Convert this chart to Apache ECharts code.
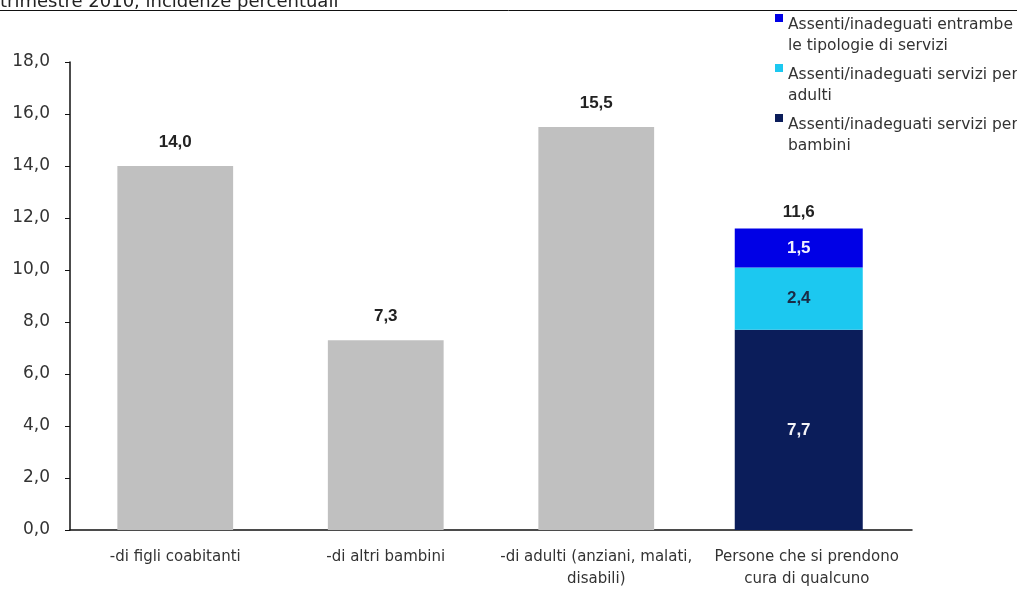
<!DOCTYPE html>
<html>
<head>
<meta charset="utf-8">
<script src="https://cdn.jsdelivr.net/npm/echarts@6/dist/echarts.min.js"></script>
<style>
  html, body { margin: 0; padding: 0; background: #fff; }
  #chart { width: 1017px; height: 592px; }
</style>
</head>
<body>
<div id="chart"></div>
<script>
// categorie
const categories = [
  '-di figli coabitanti',
  '-di altri bambini',
  '-di adulti (anziani, malati,\ndisabili)',
  'Persone che si prendono\ncura di qualcuno'
]
// valori
const singoli = [14.0, 7.3, 15.5, '-']
const bambini = ['-', '-', '-', 7.7]
const adulti = ['-', '-', '-', 2.4]
const entrambe = ['-', '-', '-', 1.5]
const totali = [14.0, 7.3, 15.5, 11.6]
const yTicks = [0, 2, 4, 6, 8, 10, 12, 14, 16, 18]

const nomeEntrambe = 'Assenti/inadeguati entrambe le tipologie di servizi'
const nomeAdulti = 'Assenti/inadeguati servizi per adulti'
const nomeBambini = 'Assenti/inadeguati servizi per bambini'
const legendaTesti = {
  [nomeEntrambe]: 'Assenti/inadeguati entrambe\nle tipologie di servizi',
  [nomeAdulti]: 'Assenti/inadeguati servizi per\nadulti',
  [nomeBambini]: 'Assenti/inadeguati servizi per\nbambini'
}

const font = "'DejaVu Sans', 'Liberation Sans', Arial, sans-serif"
const fontBold = "'Liberation Sans', Arial, sans-serif"
const fmt = (v) => Number(v).toFixed(1).replace('.', ',')

const chart = echarts.init(document.getElementById('chart'))

const valueLabel = (color, position, distance) => ({
  show: true,
  position,
  distance,
  color,
  fontFamily: fontBold,
  fontWeight: 'bold',
  fontSize: 17,
  formatter: (p) => fmt(p.value)
})

// asse nascosto per la colonna impilata (leggermente spostata come nell'originale)
const hiddenY = { type: 'value', gridIndex: 1, min: yTicks[0], max: yTicks[yTicks.length - 1], interval: 2, show: false }

chart.setOption({
  animation: false,
  backgroundColor: '#fff',
  grid: [
    { left: 70, right: 105, top: 62, bottom: 62 },
    { left: 62, right: 113, top: 62, bottom: 62 }
  ],
  graphic: [
    {
      type: 'text',
      x: 0,
      y: 11,
      style: {
        text: 'trimestre 2010, incidenze percentuali',
        fontFamily: font,
        fontSize: 18,
        fill: '#222',
        verticalAlign: 'bottom'
      }
    },
    {
      type: 'line',
      shape: { x1: 0, y1: 10.5, x2: 1017, y2: 10.5 },
      style: { stroke: '#111', lineWidth: 1 }
    }
  ],
  legend: {
    orient: 'vertical',
    left: 770,
    top: 9,
    itemGap: 8,
    itemWidth: 8,
    itemHeight: 42,
    icon: 'path://M0,0L8,0L8,8L0,8Z M0,42L0,42',
    data: [nomeEntrambe, nomeAdulti, nomeBambini],
    formatter: (name) => legendaTesti[name],
    textStyle: { fontFamily: font, fontSize: 15.5, color: '#333', lineHeight: 21 }
  },
  xAxis: [
    {
      type: 'category',
      gridIndex: 0,
      data: categories,
      axisLine: { lineStyle: { color: '#111', width: 1.5 } },
      axisTick: { show: false },
      axisLabel: { fontFamily: font, fontSize: 15, color: '#333', margin: 16, lineHeight: 22, interval: 0 }
    },
    { type: 'category', gridIndex: 1, data: categories, show: false }
  ],
  yAxis: [
    {
      type: 'value',
      gridIndex: 0,
      min: yTicks[0],
      max: yTicks[yTicks.length - 1],
      interval: 2,
      splitLine: { show: false },
      axisLine: { show: true, lineStyle: { color: '#111', width: 1.5 } },
      axisTick: { show: true, inside: false, length: 5, lineStyle: { color: '#111' } },
      axisLabel: { fontFamily: font, fontSize: 17, color: '#333', margin: 20, formatter: (v) => fmt(v) }
    },
    hiddenY
  ],
  series: [
    {
      name: 'singoli',
      type: 'bar',
      barWidth: '55%',
      data: singoli,
      itemStyle: { color: '#c0c0c0' },
      label: valueLabel('#222', 'top', 15)
    },
    {
      name: nomeBambini,
      type: 'bar',
      stack: 'a',
      xAxisIndex: 1,
      yAxisIndex: 1,
      barWidth: 128,
      data: bambini,
      itemStyle: { color: '#0b1d5a' },
      label: valueLabel('#f4f4f8', 'inside')
    },
    {
      name: nomeAdulti,
      type: 'bar',
      stack: 'a',
      xAxisIndex: 1,
      yAxisIndex: 1,
      data: adulti,
      itemStyle: { color: '#1cc8f0' },
      label: valueLabel('#1b2b45', 'inside')
    },
    {
      name: nomeEntrambe,
      type: 'bar',
      stack: 'a',
      xAxisIndex: 1,
      yAxisIndex: 1,
      data: entrambe,
      itemStyle: { color: '#0000e6' },
      label: valueLabel('#f0f0ff', 'inside')
    },
    {
      name: 'totale',
      type: 'bar',
      stack: 'a',
      xAxisIndex: 1,
      yAxisIndex: 1,
      data: ['-', '-', '-', 0],
      itemStyle: { color: 'transparent' },
      label: {
        ...valueLabel('#222', 'top', 8),
        formatter: (p) => fmt(totali[p.dataIndex])
      }
    }
  ]
})
</script>
</body>
</html>
